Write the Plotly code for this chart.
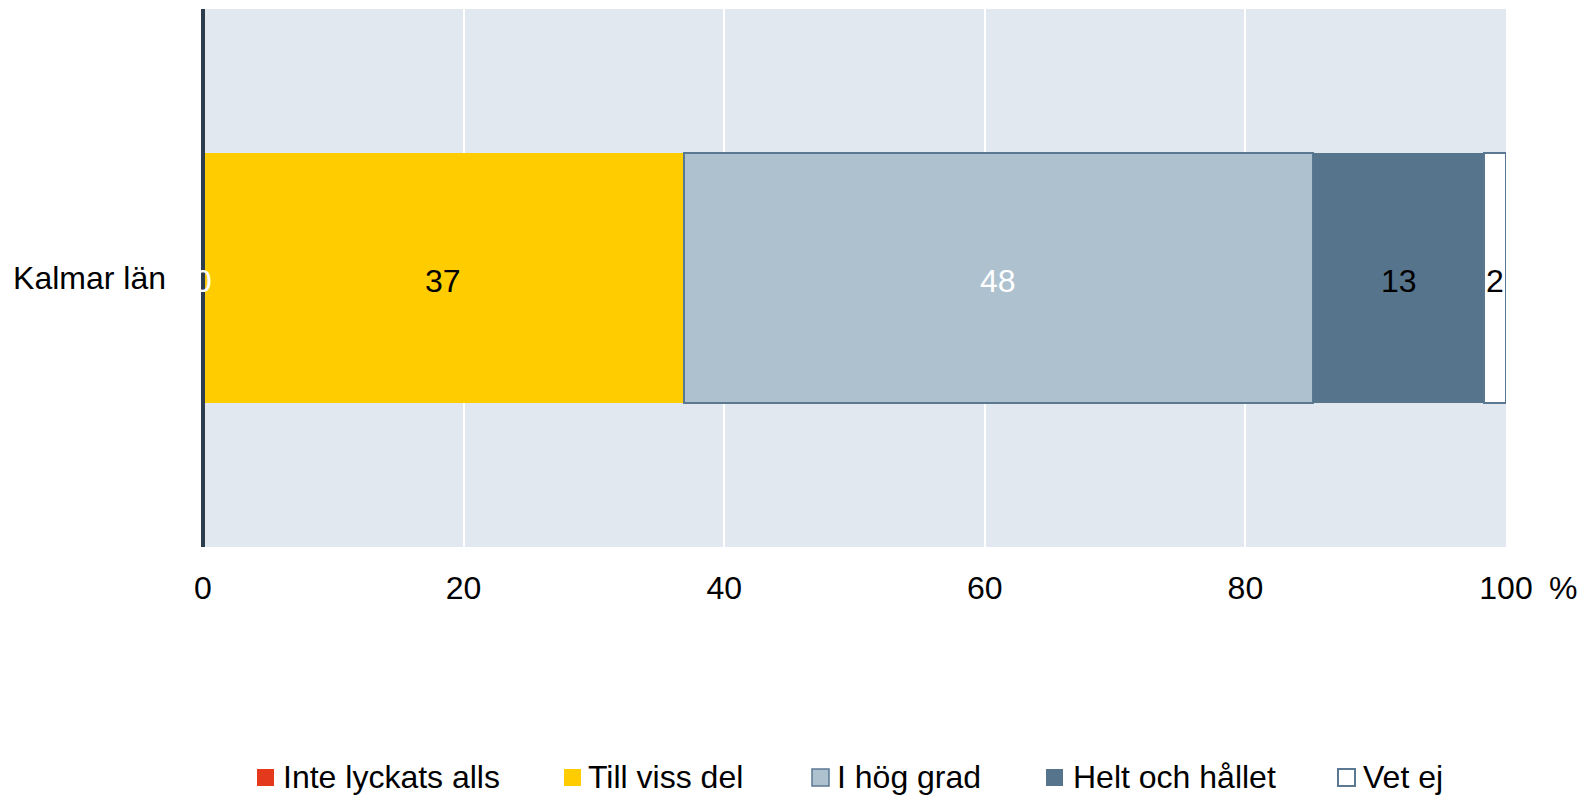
import plotly.graph_objects as go
import numpy as np

categories = ["Kalmar län"]
series_names = ["Inte lyckats alls", "Till viss del", "I hög grad", "Helt och hållet", "Vet ej"]
values = [0.0, 36.9, 48.3, 13.1, 1.7]
labels = ["0", "37", "48", "13", "2"]
x_ticks = [0, 20, 40, 60, 80, 100]

fills = ["#e5391d", "#ffcc00", "#aec1cf", "#56748c", "#ffffff"]
borders = ["#e5391d", "#ffcc00", "#5b7893", "#56748c", "#5b7893"]
border_w = [0, 0, 1.5, 0, 2]
label_colors = ["#ffffff", "#000000", "#ffffff", "#000000", "#000000"]

FONT = "Liberation Sans, Arial, sans-serif"
FS = 32

W, H = 1594, 795
ML, MR, MT, MB = 203, 88, 9, 248
PW, PH = W - ML - MR, H - MT - MB

def px_x(p):
    return (p - ML) / PW

def px_y(p):
    return (H - MB - p) / PH

fig = go.Figure()
for i, name in enumerate(series_names):
    fig.add_trace(go.Bar(
        x=[values[i]], y=categories, orientation="h", name=name,
        marker=dict(color=fills[i], line=dict(color=borders[i], width=border_w[i])),
        width=0.465, showlegend=False, hoverinfo="x+name",
    ))

# vertical axis line at the left edge of the plot area (x = 0)
fig.add_shape(type="line", xref="paper", yref="paper", x0=0, x1=0, y0=0, y1=1,
              line=dict(color="#2e3d4d", width=4), layer="above")

# segment labels at midpoints
starts = np.concatenate([[0], np.cumsum(values)[:-1]])
mids = starts + np.array(values) / 2
for m, lab, col in zip(mids, labels, label_colors):
    fig.add_annotation(x=float(m), y=categories[0], xref="x", yref="y", text=lab,
                       showarrow=False, yshift=-3,
                       font=dict(family=FONT, size=FS, color=col),
                       xanchor="center", yanchor="middle")

# manual legend (symbol boxes + labels)
leg_sym_left = [257, 564, 812, 1046, 1338]
leg_text_left = [281, 586, 835, 1071, 1361]
leg_y_top, leg_y_bot, leg_y_mid = 769, 786, 777
for i, name in enumerate(series_names):
    fig.add_shape(type="rect", xref="paper", yref="paper",
                  x0=px_x(leg_sym_left[i]), x1=px_x(leg_sym_left[i] + 17),
                  y0=px_y(leg_y_bot), y1=px_y(leg_y_top),
                  fillcolor=fills[i],
                  line=dict(color=borders[i], width=border_w[i] if border_w[i] else 0))
    fig.add_annotation(x=px_x(leg_text_left[i]), y=px_y(leg_y_mid), xref="paper", yref="paper",
                       text=name, showarrow=False, xanchor="left", yanchor="middle",
                       font=dict(family=FONT, size=FS, color="#000000"))

fig.add_annotation(
    x=px_x(1563), y=px_y(588), xref="paper", yref="paper", text="%", showarrow=False,
    font=dict(family=FONT, size=FS, color="#000000"), xanchor="center", yanchor="middle",
)

fig.update_layout(
    width=W, height=H,
    margin=dict(l=ML, r=MR, t=MT, b=MB, autoexpand=False),
    barmode="stack",
    showlegend=False,
    plot_bgcolor="#e2e8f0", paper_bgcolor="#ffffff",
    font=dict(family=FONT, size=FS, color="#000000"),
    xaxis=dict(range=[0, 100], tickvals=x_ticks, ticktext=[str(t) for t in x_ticks],
               showgrid=True, gridcolor="#ffffff", gridwidth=2, zeroline=False,
               showline=False, ticks="", ticklabelstandoff=19,
               tickfont=dict(family=FONT, size=FS, color="#000000")),
    yaxis=dict(showline=False, showgrid=False,
               ticks="", ticklabelstandoff=36, range=[-0.5, 0.5],
               tickfont=dict(family=FONT, size=FS, color="#000000")),
)

fig.write_html("out.html",
               config={"displayModeBar": False},
               post_script="document.body.style.margin='0px';document.body.style.overflow='hidden';")
